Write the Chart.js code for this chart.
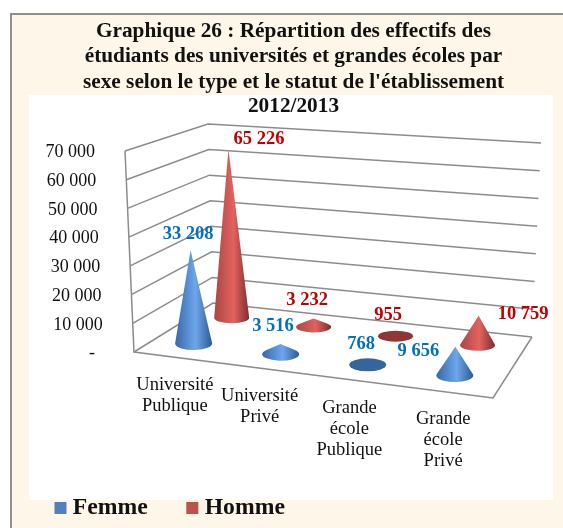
<!DOCTYPE html>
<html lang="fr">
<head>
<meta charset="utf-8">
<title>Graphique 26</title>
<style>
html,body{margin:0;padding:0;width:563px;height:528px;overflow:hidden;background:#fff}
#panel{position:absolute;left:10px;top:13px;width:553px;height:515px;box-sizing:border-box;background:#FEF6E8;border-left:2px solid #8f8f8f;border-top:2px solid #8f8f8f}
#plot{position:absolute;left:29px;top:95px;width:524px;height:405px;background:#fff}
#wrap{position:absolute;left:0;top:0;width:563px;height:528px}
</style>
</head>
<body>
<div id="panel"></div>
<div id="plot"></div>
<div id="wrap"><canvas id="c" width="563" height="528"></canvas></div>
<script src="https://cdn.jsdelivr.net/npm/chart.js@4/dist/chart.umd.min.js"></script>
<script>
const titleLines = ["Graphique 26 : Répartition des effectifs des","étudiants des universités et grandes écoles par","sexe selon le type et le statut de l'établissement"];
const subtitleLine = "2012/2013";
const categories = [["Université","Publique"],["Université","Privé"],["Grande","école","Publique"],["Grande","école","Privé"]];
const femme = [33208, 3516, 768, 9656];
const homme = [65226, 3232, 955, 10759];
const femmeLabels = ["33 208","3 516","768","9 656"];
const hommeLabels = ["65 226","3 232","955","10 759"];
const yTickLabels = ["-\u00a0\u00a0","10 000","20 000","30 000","40 000","50 000","60 000","70 000"];

const SERIF = '"Liberation Serif","Times New Roman",serif';

/* Oblique 3D box: maps (category fraction, depth fraction, value fraction) to the page. */
const BOX = {
  floor:{fl:[134,352],fr:[493,398],bl:[213,303],br:[532,337]},
  up:{fl:[-9,-201],fr:[5,-216],bl:[-5,-179],br:[9,-194]}
};
const lerp=(a,b,t)=>[a[0]+(b[0]-a[0])*t,a[1]+(b[1]-a[1])*t];
const bi=(q,u,w)=>lerp(lerp(q.fl,q.fr,u),lerp(q.bl,q.br,u),w);
function project(u,w,v,wUp){
  const b=bi(BOX.floor,u,w),t=bi(BOX.up,u,wUp===undefined?w:wUp);
  return [b[0]+t[0]*v,b[1]+t[1]*v];
}
const seriesDepth=[0.27,0.78];
const seriesHeightDepth=[0.27,1.0];
const coneShift=-0.015;
const coneRadius=[[18.5,6.5],[17.5,5.5]];
const ramps=[
  {edgeL:'#3568a8',mid:'#6ea6ec',edgeR:'#2c5a96',flat:'#34659f'},
  {edgeL:'#a84643',mid:'#e2625f',edgeR:'#7e2f2d',flat:'#8f3533'}
];
const labelColors=['#0070C0','#C00000'];
const seriesLabels=[femmeLabels,hommeLabels];
const labelOffsets=[
  [[-2.5,-16],[-7.5,-18],[-6.5,-18],[-37,4]],
  [[30.5,-10],[-6.5,-18],[-7.5,-18],[44.5,-2]]
];
const categoryNudge=[2,-3,-3,1];
const legendRowCenter=508;
const uOf=(s,i)=>s.getDecimalForPixel(s.getPixelForValue(i));
const vOf=(s,val)=>s.getDecimalForPixel(s.getPixelForValue(val));
const apexOf=(xs,ys,ds,i,val)=>project(uOf(xs,i)+coneShift,seriesDepth[ds],vOf(ys,val),seriesHeightDepth[ds]);

class ConeController extends Chart.BarController{
  draw(){
    const chart=this.chart,ctx=chart.ctx,meta=this._cachedMeta,ds=this.index;
    const xs=meta.iScale||meta.xScale,ys=meta.vScale||meta.yScale;
    const [a,b]=coneRadius[ds],r=ramps[ds];
    const data=this.getDataset().data;
    ctx.save();
    data.forEach((val,i)=>{
      const c=project(uOf(xs,i)+coneShift,seriesDepth[ds],0),p=apexOf(xs,ys,ds,i,val);
      const h=c[1]-p[1],cx=c[0],cy=c[1];
      const g=ctx.createLinearGradient(cx-a,0,cx+a,0);
      g.addColorStop(0,r.edgeL);g.addColorStop(0.55,r.mid);g.addColorStop(1,r.edgeR);
      ctx.beginPath();
      if(h<=b*1.1){
        ctx.ellipse(cx,cy,a,b,0,0,Math.PI*2);
        ctx.fillStyle=r.flat;
      }else{
        const ty=-b*b/h,tx=a*Math.sqrt(1-(b*b)/(h*h));
        const ang=Math.atan2(ty/b,tx/a);
        ctx.moveTo(p[0],p[1]);
        ctx.lineTo(cx+tx,cy+ty);
        ctx.ellipse(cx,cy,a,b,0,ang,Math.PI-ang,false);
        ctx.closePath();
        ctx.fillStyle=g;
      }
      ctx.fill();
    });
    ctx.restore();
  }
}
ConeController.id='cone3d';
ConeController.defaults=Chart.BarController.defaults;
ConeController.overrides=Chart.BarController.overrides;
Chart.register(ConeController);

const boxPlugin={
  id:'box3d',
  afterLayout(chart){
    const L=chart.legend,pad=L.options.labels.padding,fs=L.options.labels.font.size;
    const h=L.bottom-L.top;
    L.top=legendRowCenter-fs/2-pad;
    L.bottom=L.top+h;
  },
  beforeDatasetsDraw(chart){
    const ctx=chart.ctx,{x:xs,y:ys}=chart.scales;
    ctx.save();
    ctx.strokeStyle='#8c8c8c';ctx.lineWidth=1.5;ctx.lineJoin='miter';
    const line=pts=>{ctx.beginPath();pts.forEach((q,k)=>k?ctx.lineTo(q[0],q[1]):ctx.moveTo(q[0],q[1]));ctx.stroke();};
    ys.ticks.forEach(t=>{
      const v=vOf(ys,t.value);
      line([project(0,0,v),project(0,1,v),project(1,1,v)]);
    });
    line([project(0,0,1),project(0,0,0),project(1,0,0),project(1,1,0)]);
    ctx.fillStyle='#111';ctx.font='18px '+SERIF;ctx.textAlign='right';ctx.textBaseline='middle';
    ys.ticks.forEach((t,k)=>{
      const q=project(0,0,vOf(ys,t.value));
      ctx.fillText(yTickLabels[k],q[0]-30,q[1]+1.5);
    });
    ctx.font='18.5px '+SERIF;ctx.textAlign='center';
    categories.forEach((lines,i)=>{
      const q=project(uOf(xs,i),0,0);
      lines.forEach((s,k)=>ctx.fillText(s,q[0]-6+categoryNudge[i],q[1]+27+k*21));
    });
    ctx.restore();
  },
  afterDatasetsDraw(chart){
    const ctx=chart.ctx,{x:xs,y:ys}=chart.scales;
    ctx.save();
    ctx.font='bold 18.5px '+SERIF;ctx.textAlign='center';ctx.textBaseline='middle';
    chart.data.datasets.forEach((d,ds)=>{
      ctx.fillStyle=labelColors[ds];
      d.data.forEach((val,i)=>{
        const p=apexOf(xs,ys,ds,i,val),o=labelOffsets[ds][i];
        ctx.fillText(seriesLabels[ds][i],p[0]+o[0],p[1]+o[1]);
      });
    });
    ctx.restore();
  }
};

new Chart(document.getElementById('c'),{
  type:'cone3d',
  data:{
    labels:categories,
    datasets:[
      {label:'Femme',data:femme,backgroundColor:'#4F81BD',borderWidth:0},
      {label:'Homme',data:homme,backgroundColor:'#C0504D',borderWidth:0}
    ]
  },
  plugins:[boxPlugin],
  options:{
    responsive:false,animation:false,
    layout:{padding:{left:16,right:-8,top:0,bottom:0}},
    scales:{
      x:{type:'category',display:false,offset:true},
      y:{type:'linear',display:false,min:0,max:70000,ticks:{stepSize:10000}}
    },
    plugins:{
      title:{display:true,text:titleLines,color:'#111',font:{family:SERIF,size:21.3,weight:'bold',lineHeight:1.2},padding:{top:18.5,bottom:0}},
      subtitle:{display:true,text:subtitleLine,color:'#111',font:{family:SERIF,size:21.3,weight:'bold',lineHeight:1.03},padding:{top:0,bottom:0}},
      legend:{display:true,position:'bottom',align:'start',
        labels:{usePointStyle:true,pointStyle:'rect',boxWidth:1,boxHeight:12,padding:44,color:'#111',font:{family:SERIF,size:23.7,weight:'bold'}}},
      tooltip:{enabled:false}
    }
  }
});
</script>
</body>
</html>
